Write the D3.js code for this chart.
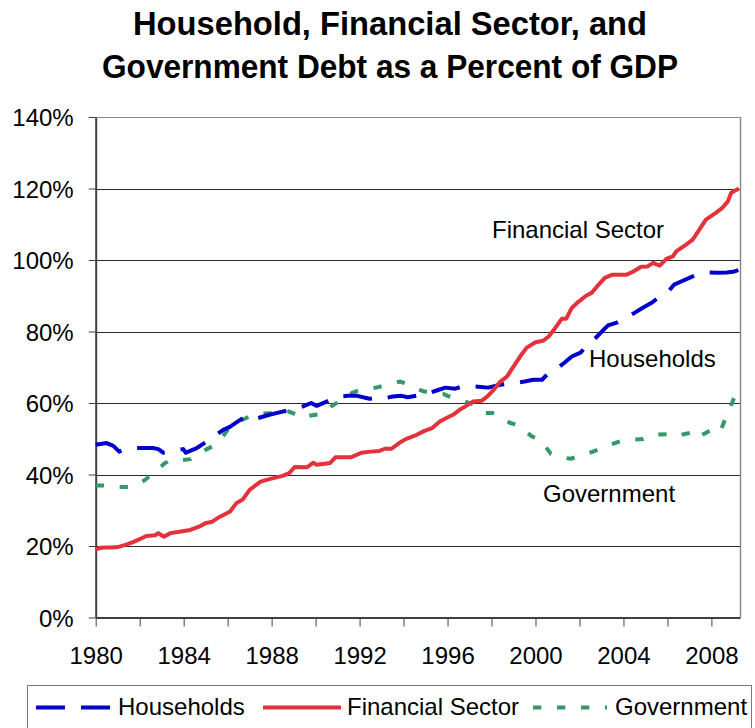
<!DOCTYPE html>
<html>
<head>
<meta charset="utf-8">
<script src="https://cdn.jsdelivr.net/npm/d3@7"></script>
<style>
  html, body { margin: 0; padding: 0; background: #fff; }
  svg { display: block; font-family: "Liberation Sans", Arial, Helvetica, sans-serif; }
</style>
</head>
<body>
<svg id="chart" width="755" height="728"></svg>
<script>
// Debt as a percent of GDP, [year, percent]
const households = [
  [1980.0,48.3],[1980.5,48.8],[1980.8,48.0],[1981.07,46.4],[1981.4,47.2],[1981.85,47.4],[1982.6,47.4],[1982.85,47.1],
  [1983.07,46.1],[1983.5,46.6],[1983.98,47.1],[1984.1,46.1],[1984.6,47.4],[1985.05,49.2],[1985.4,50.8],[1985.8,52.5],
  [1986.1,53.3],[1986.7,55.8],[1987.1,55.3],[1987.9,56.7],[1988.5,57.6],[1989.0,58.1],[1989.4,59.0],[1989.8,60.0],
  [1990.05,59.2],[1990.5,60.4],[1991.0,61.8],[1991.45,62.0],[1991.9,62.0],[1992.45,61.2],[1992.9,61.5],[1993.05,61.2],
  [1993.5,61.8],[1993.9,62.0],[1994.2,61.6],[1995.05,62.6],[1995.5,63.5],[1995.9,64.3],[1996.35,64.0],[1996.7,64.7],
  [1997.1,64.7],[1997.5,64.5],[1997.85,64.3],[1998.4,65.1],[1999.05,65.6],[1999.5,66.0],[1999.9,66.5],[2000.3,66.5],
  [2000.6,68.4],[2000.95,69.5],[2001.3,71.2],[2001.65,73.0],[2002.05,74.1],[2002.3,75.8],[2002.8,78.6],[2003.05,80.2],
  [2003.3,81.7],[2003.7,82.5],[2004.0,83.5],[2004.5,85.2],[2004.9,86.7],[2005.3,88.1],[2005.65,89.8],[2006.0,90.9],
  [2006.3,93.1],[2006.7,94.2],[2007.1,95.3],[2007.4,96.1],[2007.85,96.5],[2008.3,96.4],[2008.7,96.5],[2009.05,96.8],
  [2009.25,97.2]
];

const financialSector = [
  [1980.0,19.1],[1980.25,19.5],[1980.5,19.6],[1980.75,19.6],[1981.0,19.7],[1981.35,20.3],[1981.7,21.1],[1982.0,21.9],
  [1982.3,22.8],[1982.7,23.0],[1982.85,23.6],[1983.1,22.6],[1983.4,23.6],[1983.8,24.0],[1984.3,24.5],[1984.7,25.4],
  [1985.0,26.4],[1985.3,26.8],[1985.65,28.2],[1986.1,29.6],[1986.4,32.0],[1986.7,33.1],[1987.0,35.7],[1987.5,38.0],
  [1987.9,38.7],[1988.5,39.6],[1988.8,40.4],[1989.05,42.1],[1989.6,42.0],[1989.9,43.3],[1990.05,42.7],[1990.65,43.2],
  [1990.9,44.8],[1991.6,44.8],[1992.1,46.1],[1992.5,46.4],[1992.9,46.6],[1993.15,47.2],[1993.45,47.2],[1993.8,48.8],
  [1994.1,49.9],[1994.6,51.1],[1994.95,52.2],[1995.3,53.0],[1995.65,54.8],[1995.95,55.8],[1996.25,56.7],[1996.55,58.1],
  [1996.85,59.2],[1997.15,60.4],[1997.55,60.6],[1997.8,61.8],[1998.1,63.7],[1998.4,66.0],[1998.7,67.4],[1999.0,70.2],
  [1999.3,73.0],[1999.6,75.5],[2000.0,77.0],[2000.35,77.4],[2000.6,78.6],[2000.9,81.0],[2001.2,83.6],[2001.4,83.6],
  [2001.65,86.6],[2001.95,88.3],[2002.3,90.0],[2002.55,90.8],[2002.8,92.6],[2003.15,95.0],[2003.5,95.9],[2004.15,95.9],
  [2004.45,96.8],[2004.8,98.1],[2005.1,98.2],[2005.35,99.2],[2005.65,98.4],[2005.95,100.3],[2006.25,101.0],[2006.4,102.4],
  [2006.85,104.3],[2007.15,105.7],[2007.45,108.5],[2007.75,111.3],[2008.2,113.2],[2008.5,114.6],[2008.75,116.4],
  [2008.9,118.8],[2009.25,120.0]
];

const government = [
  [1980.0,36.9],[1980.5,36.9],[1980.9,36.7],[1981.2,36.5],[1981.5,36.5],[1981.9,37.2],[1982.25,38.5],[1982.5,39.9],
  [1982.85,41.6],[1983.15,43.2],[1983.45,44.1],[1983.9,44.0],[1984.3,44.3],[1984.5,45.2],[1984.9,46.6],[1985.35,48.0],
  [1985.6,49.2],[1986.1,53.3],[1986.5,54.8],[1986.85,55.8],[1987.3,57.0],[1987.9,57.1],[1988.4,57.2],[1988.8,57.6],
  [1989.1,56.8],[1989.35,55.8],[1989.65,56.4],[1990.2,56.9],[1990.5,57.6],[1990.7,59.0],[1991.0,60.2],[1991.4,61.4],
  [1991.65,62.8],[1992.1,63.8],[1992.45,64.2],[1992.75,64.3],[1993.2,65.0],[1993.6,65.6],[1993.85,66.0],[1994.3,65.0],
  [1994.65,63.9],[1994.95,63.2],[1995.4,62.9],[1995.8,62.6],[1996.0,62.0],[1996.4,61.2],[1996.8,60.4],[1997.1,59.8],
  [1997.4,58.4],[1997.7,57.2],[1998.05,57.2],[1998.5,55.8],[1998.85,54.4],[1999.2,53.8],[1999.5,52.2],[1999.85,50.6],
  [2000.2,49.9],[2000.45,47.8],[2000.7,45.8],[2001.0,45.2],[2001.3,44.7],[2001.6,44.4],[2002.0,45.2],[2002.4,45.9],
  [2002.7,46.6],[2003.05,47.4],[2003.4,48.3],[2003.8,49.2],[2004.15,49.7],[2004.5,49.8],[2004.9,49.9],[2005.3,51.1],
  [2005.6,51.2],[2006.0,51.3],[2006.4,50.6],[2006.7,51.2],[2007.05,51.7],[2007.3,50.2],[2007.7,51.5],[2008.05,52.7],
  [2008.4,51.9],[2008.7,56.7],[2008.85,58.6],[2009.0,61.0],[2009.25,63.7]
];

const yTicks = [0, 20, 40, 60, 80, 100, 120, 140];
const xTickYears = [1980, 1982, 1984, 1986, 1988, 1990, 1992, 1994, 1996, 1998, 2000, 2002, 2004, 2006, 2008];
const titleLines = ["Household, Financial Sector, and", "Government Debt as a Percent of GDP"];

const series = [
  { name: "Households", data: households, color: "#0000CC", dash: "29,16", label: { x: 589, y: 367 } },
  { name: "Financial Sector", data: financialSector, color: "#E3323B", dash: null, label: { x: 492, y: 238 } },
  { name: "Government", data: government, color: "#339966", dash: "8.3,15.7", label: { x: 543, y: 502 } }
];

const svg = d3.select("#chart");
const plot = { left: 95.7, right: 740, top: 117, bottom: 617.5 };

const x = d3.scaleLinear().domain([1980, 2009.3]).range([plot.left, plot.right]);
const y = d3.scaleLinear().domain([0, 140]).range([plot.bottom, plot.top]);

// Title: tall, condensed bold lines
const titleWidths = [514, 576];
svg.append("g").selectAll("text").data(titleLines).join("text")
  .attr("x", 390).attr("y", (d, i) => 35 + i * 43)
  .attr("text-anchor", "middle")
  .attr("font-size", 33).attr("font-weight", "bold").attr("fill", "#000")
  .attr("textLength", (d, i) => titleWidths[i])
  .attr("lengthAdjust", "spacingAndGlyphs")
  .text(d => d);

// Horizontal gridlines
svg.append("g").selectAll("line").data(yTicks.filter(v => v > 0)).join("line")
  .attr("x1", plot.left).attr("x2", plot.right)
  .attr("y1", d => Math.round(y(d)) + 0.5).attr("y2", d => Math.round(y(d)) + 0.5)
  .attr("stroke", d => d === 140 ? "#8a8a8a" : "#2a2a2a").attr("stroke-width", 1);

// Right border of the plot area
svg.append("line")
  .attr("x1", plot.right + 0.5).attr("x2", plot.right + 0.5)
  .attr("y1", plot.top).attr("y2", plot.bottom)
  .attr("stroke", "#8a8a8a").attr("stroke-width", 1.5);

// Y axis
const yAxis = svg.append("g")
  .attr("transform", `translate(${plot.left},0)`)
  .call(d3.axisLeft(y).tickValues(yTicks).tickSize(7).tickSizeOuter(0).tickPadding(15).tickFormat(d => d + "%"));
yAxis.select(".domain").attr("stroke", "#404040").attr("stroke-width", 2);
yAxis.selectAll(".tick line").attr("stroke", "#404040").attr("stroke-width", 1);
yAxis.selectAll("text").attr("font-size", 24).attr("fill", "#000")
  .attr("font-family", "'Liberation Sans', Arial, sans-serif").attr("dy", "0.36em");

// X axis
const xAxis = svg.append("g")
  .attr("transform", `translate(0,${plot.bottom})`)
  .call(d3.axisBottom(x).tickValues(xTickYears).tickSize(9).tickSizeOuter(0).tickPadding(20)
    .tickFormat(d => d % 4 === 0 ? String(d) : ""));
xAxis.select(".domain").attr("stroke", "#404040").attr("stroke-width", 2);
xAxis.selectAll(".tick line").attr("stroke", "#404040").attr("stroke-width", 1);
xAxis.selectAll("text").attr("font-size", 24).attr("fill", "#000")
  .attr("font-family", "'Liberation Sans', Arial, sans-serif");

// Series lines
const line = d3.line().x(d => x(d[0])).y(d => y(d[1]));
const lines = svg.append("g");
// green first, then blue, red on top
[series[2], series[0], series[1]].forEach(s => {
  lines.append("path")
    .datum(s.data)
    .attr("d", line)
    .attr("fill", "none")
    .attr("stroke", s.color)
    .attr("stroke-width", 4)
    .attr("stroke-linejoin", "round")
    .attr("stroke-linecap", "butt")
    .attr("stroke-dasharray", s.dash);
});

// Inline series labels
svg.append("g").selectAll("text").data(series).join("text")
  .attr("x", d => d.label.x).attr("y", d => d.label.y)
  .attr("font-size", 24).attr("fill", "#000")
  .text(d => d.name);

// Legend
const legend = svg.append("g");
legend.append("rect")
  .attr("x", 27.5).attr("y", 685.5).attr("width", 724).attr("height", 60)
  .attr("fill", "#fff").attr("stroke", "#7a7a7a").attr("stroke-width", 1);
const legendItems = [
  { s: series[0], x1: 36, x2: 110, tx: 118 },
  { s: series[1], x1: 263, x2: 341, tx: 347 },
  { s: series[2], x1: 533, x2: 607, tx: 615 }
];
legendItems.forEach(it => {
  legend.append("line")
    .attr("x1", it.x1).attr("x2", it.x2).attr("y1", 707.5).attr("y2", 707.5)
    .attr("stroke", it.s.color).attr("stroke-width", 4)
    .attr("stroke-dasharray", it.s.dash);
  legend.append("text")
    .attr("x", it.tx).attr("y", 714.5)
    .attr("font-size", 24).attr("fill", "#000")
    .text(it.s.name);
});
</script>
</body>
</html>
